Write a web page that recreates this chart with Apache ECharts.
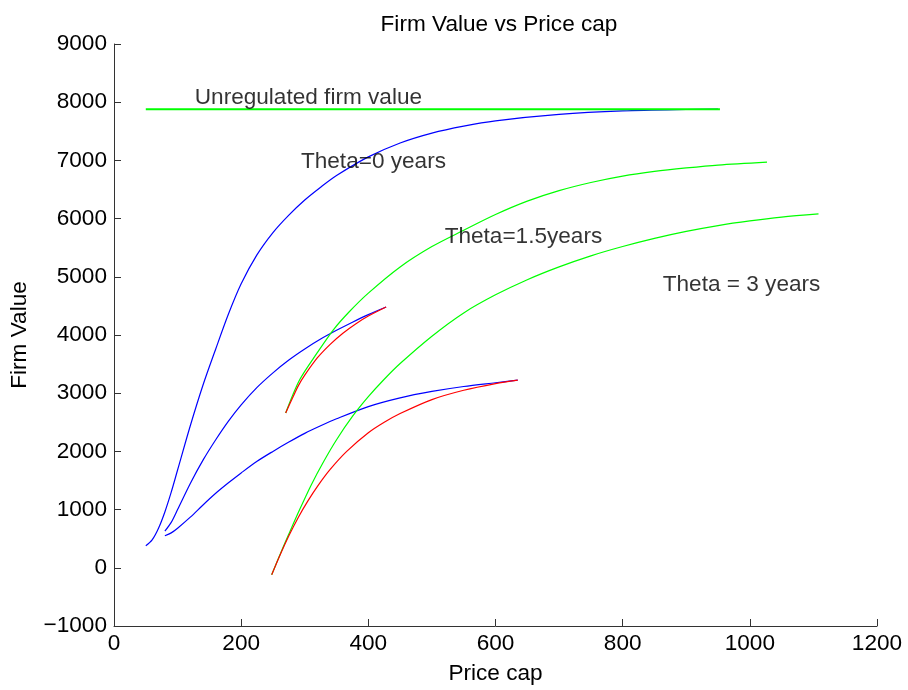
<!DOCTYPE html>
<html>
<head>
<meta charset="utf-8">
<script src="https://cdn.jsdelivr.net/npm/echarts@6/dist/echarts.min.js"></script>
<style>
  html, body { margin: 0; padding: 0; background: #fff; }
  #chart { width: 908px; height: 690px; }
</style>
</head>
<body>
<div id="chart"></div>
<script>
// Firm value as a function of the price cap, for several regulatory lags (Theta).
const xTicks = [0, 200, 400, 600, 800, 1000, 1200];
const yTicks = [-1000, 0, 1000, 2000, 3000, 4000, 5000, 6000, 7000, 8000, 9000];

// Unregulated firm value (flat reference line)
const unregulated = [[50, 7880], [953, 7880]];

// Theta = 0 years (blue)
const theta0 = [
  [50, 380], [60, 480], [70, 680], [80, 960], [90, 1300], [100, 1680], [120, 2440],
  [140, 3140], [160, 3760], [180, 4360], [200, 4880], [225, 5380], [250, 5760],
  [275, 6060], [300, 6320], [325, 6540], [350, 6740], [400, 7060], [450, 7300],
  [500, 7470], [550, 7590], [600, 7680], [700, 7790], [800, 7850], [900, 7875], [950, 7880]
];

// Theta = 1.5 years: blue branch, red branch, green branch
const theta15Blue = [
  [80, 630], [90, 780], [100, 1000], [120, 1450], [140, 1850], [160, 2200], [180, 2520],
  [200, 2800], [225, 3100], [250, 3350], [275, 3570], [300, 3760], [325, 3930],
  [350, 4080], [375, 4220], [400, 4350], [428, 4480]
];
const theta15Red = [
  [270, 2660], [280, 2900], [290, 3130], [300, 3310], [320, 3610], [340, 3840],
  [360, 4030], [380, 4190], [400, 4325], [428, 4480]
];
const theta15Green = [
  [270, 2660], [292, 3230], [320, 3700], [345, 4090], [370, 4400], [400, 4720],
  [450, 5170], [500, 5520], [550, 5800], [600, 6070], [650, 6300], [700, 6480],
  [750, 6620], [800, 6730], [850, 6810], [900, 6870], [950, 6920], [1027, 6970]
];

// Theta = 3 years: blue branch, red branch, green branch
const theta3Blue = [
  [80, 550], [90, 600], [100, 680], [120, 870], [140, 1080], [160, 1280], [180, 1460],
  [200, 1630], [225, 1830], [250, 2000], [275, 2160], [300, 2310], [325, 2440],
  [350, 2560], [400, 2770], [450, 2920], [500, 3030], [550, 3115], [600, 3180], [635, 3225]
];
const theta3Red = [
  [248, -120], [260, 190], [275, 550], [290, 870], [305, 1150], [320, 1400], [340, 1690],
  [366, 2000], [400, 2320], [425, 2500], [450, 2650], [500, 2890], [550, 3050],
  [600, 3165], [635, 3225]
];
const theta3Green = [
  [248, -120], [260, 200], [275, 580], [292, 1000], [310, 1420], [330, 1830], [350, 2200],
  [375, 2600], [400, 2940], [425, 3240], [450, 3510], [500, 3980], [550, 4380],
  [600, 4690], [650, 4950], [700, 5170], [750, 5360], [800, 5520], [850, 5660],
  [900, 5780], [950, 5880], [1000, 5960], [1050, 6025], [1108, 6080]
];

// Text annotations placed in data space: [price cap, firm value, text]
const annotations = [
  [127, 8072, 'Unregulated firm value'],
  [294, 6973, 'Theta=0 years'],
  [520, 5684, 'Theta=1.5years'],
  [863, 4859, 'Theta = 3 years']
];

const FONT = 'Liberation Sans, Arial, Helvetica, sans-serif';
const FS = 22.6;
const BLUE = '#0000ff', RED = '#ff0000', GREEN = '#00ff00';

function curve(data, color, width, z) {
  return {
    type: 'line', data: data, smooth: 0.3,
    showSymbol: false, silent: true,
    lineStyle: { color: color, width: width || 1.2 }, z: z || 2, animation: false
  };
}

const chart = echarts.init(document.getElementById('chart'), null, { renderer: 'canvas' });
chart.setOption({
  backgroundColor: '#ffffff',
  animation: false,
  title: {
    text: 'Firm Value vs Price cap', left: 494, top: 8, textAlign: 'center',
    textStyle: { fontFamily: FONT, fontSize: FS, fontWeight: 'normal', color: '#000' }
  },
  grid: { left: 114, right: 31, top: 44, bottom: 64, containLabel: false },
  xAxis: {
    type: 'value', min: xTicks[0], max: xTicks[xTicks.length - 1], interval: 200,
    name: 'Price cap', nameLocation: 'middle', nameGap: 36,
    nameTextStyle: { fontFamily: FONT, fontSize: FS, color: '#000' },
    axisLine: { show: true, onZero: false, lineStyle: { color: '#333', width: 1 } },
    axisTick: { show: true, inside: true, length: 7, lineStyle: { color: '#333' } },
    axisLabel: { fontFamily: FONT, fontSize: FS, color: '#000', margin: 6,
      formatter: v => String(v) },
    splitLine: { show: false }
  },
  yAxis: {
    type: 'value', min: yTicks[0], max: yTicks[yTicks.length - 1], interval: 1000,
    name: 'Firm Value', nameLocation: 'middle', nameGap: 83, nameRotate: 90,
    nameTextStyle: { fontFamily: FONT, fontSize: FS, color: '#000' },
    axisLine: { show: true, onZero: false, lineStyle: { color: '#333', width: 1 } },
    axisTick: { show: true, inside: true, length: 7, lineStyle: { color: '#333' } },
    axisLabel: {
      fontFamily: FONT, fontSize: FS, color: '#000', margin: 7,
      formatter: v => String(v).replace('-', '\u2212')
    },
    splitLine: { show: false }
  },
  series: [
    curve(theta0, BLUE),
    curve(theta15Blue, BLUE),
    curve(theta3Blue, BLUE),
    curve(theta15Green, GREEN),
    curve(theta3Green, GREEN),
    curve(theta15Red, RED, 1.2, 3),
    curve(theta3Red, RED, 1.2, 3),
    curve(unregulated, GREEN, 2, 4),
    {
      type: 'scatter', data: annotations, symbolSize: 0, silent: true, z: 5,
      label: {
        show: true, position: 'right', distance: 0,
        formatter: p => p.value[2],
        fontFamily: FONT, fontSize: FS, color: '#000'
      }
    }
  ]
});
</script>
</body>
</html>
